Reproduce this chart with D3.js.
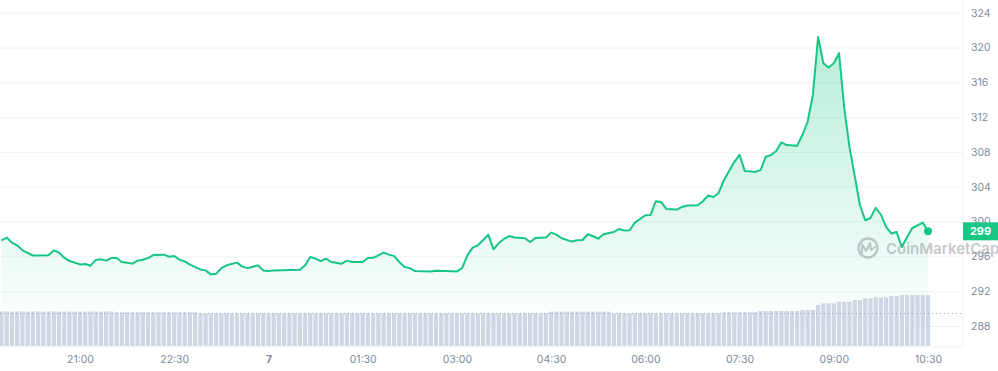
<!DOCTYPE html>
<html>
<head>
<meta charset="utf-8">
<script src="https://cdn.jsdelivr.net/npm/d3@7"></script>
<style>
  body { margin: 0; background: #fff; font-family: Inter, "Noto Sans", sans-serif; }
  .axis text { fill: #808a9d; font-size: 10.5px; font-family: Inter, sans-serif; }
  .axis .domain { display: none; }
  .grid line { stroke: #eff2f5; }
  .day-label { fill: #58667e; font-weight: 700; }
</style>
</head>
<body>
<div id="chart"></div>
<script>
// price, 5 min candles (only the turning points)
const priceTimes = [
  '19:45','19:50','19:55','20:00','20:05','20:15','20:30','20:35','20:40','20:45','20:50',
  '21:00','21:05','21:10','21:15','21:20','21:25','21:30','21:35','21:40','21:45','21:50','21:55',
  '22:00','22:05','22:10','22:20','22:25','22:30','22:35','22:40','22:45','22:55',
  '23:00','23:05','23:10','23:15','23:20','23:30','23:35','23:40','23:50','23:55',
  '00:00','00:05','00:30','00:35','00:40','00:45','00:50','00:55',
  '01:00','01:10','01:15','01:20','01:30','01:35','01:40','01:50','01:55',
  '02:00','02:05','02:10','02:15','02:20','02:35','02:40','02:50',
  '03:00','03:05','03:10','03:15','03:20','03:25','03:30','03:35','03:40','03:45','03:50','03:55',
  '04:05','04:10','04:15','04:25','04:30','04:35','04:40','04:50','04:55',
  '05:00','05:05','05:10','05:15','05:20','05:30','05:35','05:40','05:45','05:50',
  '06:00','06:05','06:10','06:15','06:20','06:30','06:35','06:40','06:50','06:55',
  '07:00','07:05','07:10','07:15','07:25','07:30','07:35','07:45','07:50','07:55',
  '08:00','08:05','08:10','08:15','08:25','08:30','08:35','08:40','08:45','08:50','08:55',
  '09:00','09:05','09:10','09:15','09:20','09:25','09:30','09:35','09:40','09:45','09:50','09:55',
  '10:00','10:05','10:10','10:15','10:25','10:30'
];
const priceValues = [
  297.85,298.16,297.58,297.27,296.69,296.10,296.12,296.69,296.43,295.85,295.46,
  295.08,295.12,294.93,295.58,295.66,295.51,295.81,295.81,295.35,295.28,295.16,295.51,
  295.62,295.81,296.15,296.20,295.97,296.04,295.62,295.43,295.05,294.50,
  294.39,293.93,294.01,294.65,294.97,295.28,294.82,294.65,294.97,294.39,
  294.31,294.39,294.47,294.97,295.92,295.74,295.46,295.74,
  295.35,295.16,295.51,295.35,295.35,295.81,295.83,296.43,296.20,
  296.04,295.35,294.77,294.65,294.31,294.27,294.35,294.31,
  294.27,294.65,296.12,297.00,297.27,297.85,298.50,296.81,297.53,298.00,298.34,298.16,
  298.08,297.65,298.11,298.16,298.73,298.50,298.08,297.70,297.85,
  297.88,298.54,298.31,298.04,298.54,298.80,299.15,298.96,299.00,299.88,
  300.73,300.76,302.34,302.26,301.45,301.38,301.68,301.84,301.88,302.34,
  303.00,302.83,303.29,304.76,306.87,307.67,305.80,305.71,305.91,307.44,
  307.64,308.10,309.10,308.79,308.71,309.94,311.47,314.55,321.20,318.20,317.70,
  318.20,319.35,313.00,308.55,305.22,301.88,300.15,300.41,301.57,300.81,299.38,298.62,
  298.80,297.07,298.23,299.26,299.88,298.88
];

// 24h volume ($M), one bar every 5 minutes starting at 19:45
const volumeStart = '19:45';
const volumeValues = [
  345,345,345,345,345,345,345,345,345,345,345,345,
  345,345,345,345,345,345,345,345,345,345,337,337,
  337,337,337,337,337,337,337,337,337,337,337,337,
  337,337,327,327,327,327,327,327,327,327,327,327,
  327,327,327,327,327,327,327,327,327,327,327,327,
  327,327,327,327,327,327,327,327,327,327,327,327,
  327,327,327,327,327,327,327,327,327,327,327,327,
  327,327,327,327,327,327,327,327,327,327,327,327,
  327,327,327,327,327,327,327,327,327,343,343,343,
  343,343,343,343,343,343,343,343,343,327,327,327,
  327,327,327,327,327,327,327,327,327,327,327,327,
  327,327,327,327,327,327,337,337,337,337,337,337,
  337,350,350,350,350,350,350,350,350,360,360,360,
  410,427,427,427,443,443,443,460,460,477,477,487,
  487,487,500,500,510,510,510,510,510,510
];
const volumeAvg = 325;

const yTickValues = [288, 292, 296, 300, 304, 308, 312, 316, 320, 324];
const xTickTimes = ['21:00', '22:30', '00:00', '01:30', '03:00', '04:30', '06:00', '07:30', '09:00', '10:30'];
const xTickLabels = ['21:00', '22:30', '7', '01:30', '03:00', '04:30', '06:00', '07:30', '09:00', '10:30'];

function parseClock(s) {
  const [h, m] = s.split(':').map(Number);
  return new Date(2024, 0, h >= 12 ? 6 : 7, h, m);
}

class PriceChart {

  constructor(_config) {
    this.config = {
      parentElement: _config.parentElement,
      containerWidth: 998,
      containerHeight: 371,
      plotWidth: 963,
      plotHeight: 347
    }
    this.initVis();
  }

  initVis() {
    let vis = this;

    vis.svg = d3.select(vis.config.parentElement).append('svg')
        .attr('width', vis.config.containerWidth)
        .attr('height', vis.config.containerHeight);

    vis.xScale = d3.scaleTime()
        .domain([new Date(2024, 0, 6, 19, 43, 36), new Date(2024, 0, 7, 11, 3, 24)])
        .range([0, vis.config.plotWidth]);

    vis.yScale = d3.scaleLinear()
        .domain([288, 324])
        .range([326, 12.7]);

    vis.volScale = d3.scaleLinear()
        .domain([0, 600])
        .range([346, 286]);

    let grad = vis.svg.append('defs').append('linearGradient')
        .attr('id', 'area-grad')
        .attr('gradientUnits', 'userSpaceOnUse')
        .attr('x1', 0).attr('x2', 0)
        .attr('y1', 30).attr('y2', 330);
    grad.append('stop').attr('offset', 0).attr('stop-color', '#16c784').attr('stop-opacity', 0.32);
    grad.append('stop').attr('offset', 1).attr('stop-color', '#16c784').attr('stop-opacity', 0);

    vis.gridG = vis.svg.append('g').attr('class', 'axis grid')
        .attr('transform', `translate(${vis.config.plotWidth},0)`);
    vis.xAxisG = vis.svg.append('g').attr('class', 'axis x-axis')
        .attr('transform', `translate(0,${vis.config.plotHeight})`);

    vis.svg.append('line')
        .attr('x1', 0).attr('x2', vis.config.plotWidth)
        .attr('y1', vis.config.plotHeight).attr('y2', vis.config.plotHeight)
        .attr('stroke', '#eff2f5');
    vis.svg.append('line')
        .attr('x1', vis.config.plotWidth).attr('x2', vis.config.plotWidth)
        .attr('y1', 0).attr('y2', vis.config.plotHeight)
        .attr('stroke', '#eff2f5');

    vis.chart = vis.svg.append('g');
  }

  updateVis() {
    let vis = this;

    vis.prices = priceTimes.map((t, i) => ({date: parseClock(t), value: priceValues[i]}));
    let start = parseClock(volumeStart);
    vis.volumes = volumeValues.map((v, i) => ({date: d3.timeMinute.offset(start, i * 5), value: v}));

    vis.renderVis();
  }

  renderVis() {
    let vis = this;
    const x = vis.xScale, y = vis.yScale;

    vis.yAxis = d3.axisRight(y)
        .tickValues(yTickValues)
        .tickSize(-vis.config.plotWidth)
        .tickPadding(8);
    vis.gridG.call(vis.yAxis);
    vis.gridG.selectAll('.tick line').attr('stroke', '#eff2f5');

    let xTicks = xTickTimes.map(parseClock);
    vis.xAxis = d3.axisBottom(x)
        .tickValues(xTicks)
        .tickFormat((d, i) => xTickLabels[i])
        .tickSize(0)
        .tickPadding(9);
    vis.xAxisG.call(vis.xAxis);
    vis.xAxisG.selectAll('.tick text').classed('day-label', (d, i) => xTickLabels[i] === '7');

    // area + line
    let area = d3.area()
        .x(d => x(d.date))
        .y0(vis.config.plotHeight)
        .y1(d => y(d.value));
    vis.chart.append('path')
        .datum(vis.prices)
        .attr('fill', 'url(#area-grad)')
        .attr('d', area);

    // volume bars
    let step = x(d3.timeMinute.offset(vis.volumes[0].date, 5)) - x(vis.volumes[0].date);
    vis.chart.selectAll('.bar')
        .data(vis.volumes)
        .join('rect')
        .attr('class', 'bar')
        .attr('fill', '#cfd6e4')
        .attr('x', d => x(d.date) - (step - 1) / 2)
        .attr('width', step - 1)
        .attr('y', d => vis.volScale(d.value))
        .attr('height', d => vis.volScale(0) - vis.volScale(d.value));

    vis.chart.append('line')
        .attr('x1', 0).attr('x2', vis.config.plotWidth)
        .attr('y1', vis.volScale(volumeAvg)).attr('y2', vis.volScale(volumeAvg))
        .attr('stroke', '#a1a7bb')
        .attr('stroke-dasharray', '1,3');

    let line = d3.line()
        .x(d => x(d.date))
        .y(d => y(d.value));
    vis.chart.append('path')
        .datum(vis.prices)
        .attr('fill', 'none')
        .attr('stroke', '#16c784')
        .attr('stroke-width', 2)
        .attr('stroke-linejoin', 'round')
        .attr('d', line);

    let last = vis.prices[vis.prices.length - 1];
    vis.chart.append('circle')
        .attr('cx', x(last.date))
        .attr('cy', y(last.value))
        .attr('r', 4)
        .attr('fill', '#16c784');

    // watermark
    let wm = vis.svg.append('g').attr('opacity', 0.5);
    wm.append('circle')
        .attr('cx', 868).attr('cy', 248).attr('r', 9.5)
        .attr('fill', 'none').attr('stroke', '#8f939c').attr('stroke-width', 2.4);
    wm.append('path')
        .attr('d', 'M862,253 L862,244 L866,251 L870,243 L871,250 L875,247')
        .attr('fill', 'none').attr('stroke', '#8f939c').attr('stroke-width', 2)
        .attr('stroke-linejoin', 'round').attr('stroke-linecap', 'round');
    wm.append('text')
        .attr('x', 886).attr('y', 254)
        .attr('fill', '#8f939c')
        .style('font-size', '15px')
        .style('font-weight', 600)
        .text('CoinMarketCap');

    // last price tag
    let tagY = y(last.value);
    vis.svg.append('rect')
        .attr('x', vis.config.plotWidth).attr('y', tagY - 9)
        .attr('width', 35).attr('height', 18)
        .attr('fill', '#16c784');
    vis.svg.append('text')
        .attr('x', vis.config.plotWidth + 17.5).attr('y', tagY)
        .attr('dy', '0.35em')
        .attr('text-anchor', 'middle')
        .attr('fill', '#fff')
        .style('font-size', '11px')
        .style('font-weight', 700)
        .text(d3.format('.0f')(last.value));
  }
}

let chart = new PriceChart({parentElement: '#chart'});
chart.updateVis();
</script>
</body>
</html>
